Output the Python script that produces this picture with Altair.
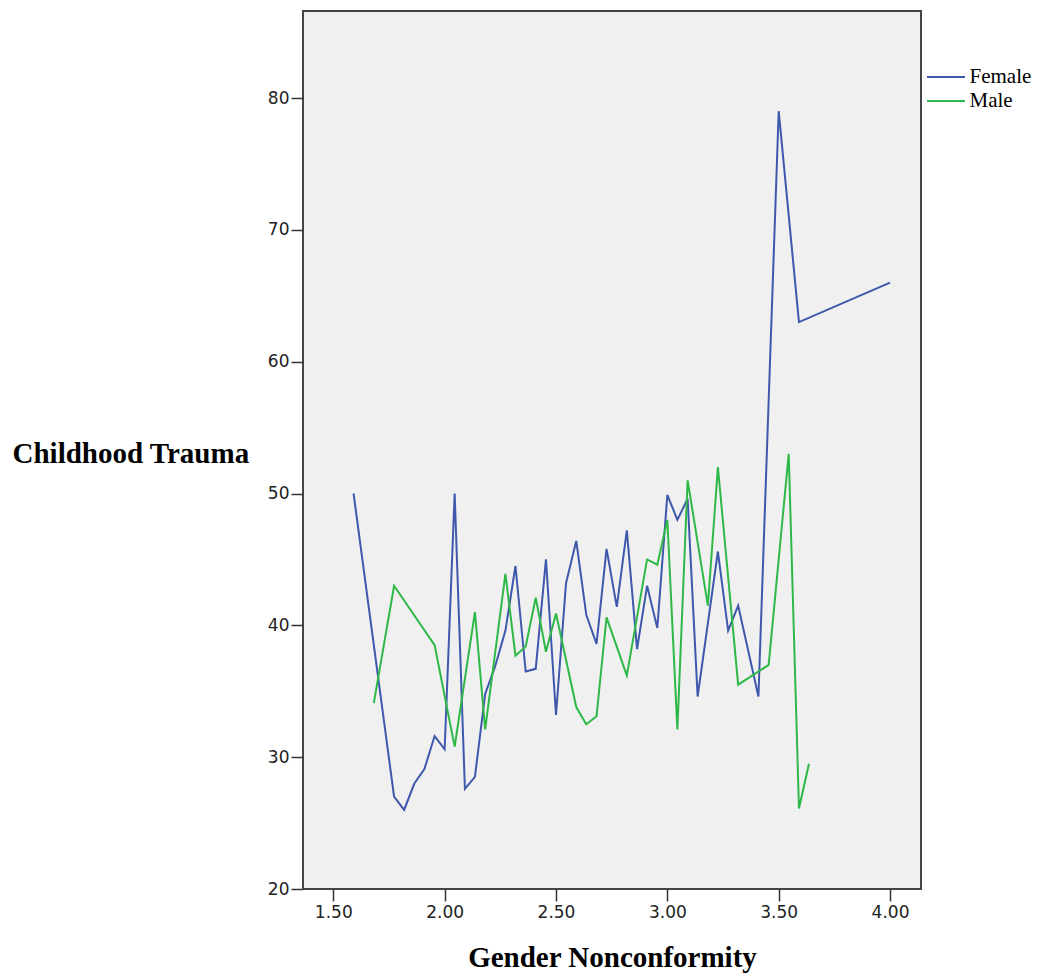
import altair as alt
import pandas as pd

# Data
female_x = [1.591, 1.773, 1.818, 1.864, 1.909, 1.955, 2.000, 2.045, 2.091, 2.136,
            2.182, 2.227, 2.273, 2.318, 2.364, 2.409, 2.455, 2.500, 2.545, 2.591,
            2.636, 2.682, 2.727, 2.773, 2.818, 2.864, 2.909, 2.955, 3.000, 3.045,
            3.091, 3.136, 3.227, 3.273, 3.318, 3.409, 3.500, 3.591, 4.000]
female_y = [50.0, 27.0, 26.0, 28.0, 29.1, 31.6, 30.6, 50.0, 27.6, 28.5,
            34.8, 36.9, 39.6, 44.5, 36.5, 36.7, 45.0, 33.2, 43.2, 46.4,
            40.8, 38.6, 45.8, 41.4, 47.2, 38.2, 43.0, 39.8, 49.9, 48.0,
            49.6, 34.6, 45.6, 39.6, 41.5, 34.6, 79.0, 63.0, 66.0]

male_x = [1.682, 1.773, 1.955, 2.045, 2.136, 2.182, 2.273, 2.318, 2.364, 2.409,
          2.455, 2.500, 2.591, 2.636, 2.682, 2.727, 2.818, 2.909, 2.955, 3.000,
          3.045, 3.091, 3.182, 3.227, 3.318, 3.455, 3.545, 3.591, 3.636]
male_y = [34.1, 43.0, 38.5, 30.8, 41.0, 32.1, 43.9, 37.7, 38.4, 42.1,
          38.0, 40.9, 33.8, 32.5, 33.1, 40.6, 36.2, 45.0, 44.6, 48.0,
          32.1, 51.0, 41.5, 52.0, 35.5, 37.0, 53.0, 26.1, 29.5]

groups = ["Female", "Male"]
colors = ["#3E58AC", "#2EB848"]
x_ticks = [1.5, 2.0, 2.5, 3.0, 3.5, 4.0]
y_ticks = [20, 30, 40, 50, 60, 70, 80]

df = pd.concat([
    pd.DataFrame({"gnc": female_x, "trauma": female_y, "sex": "Female"}),
    pd.DataFrame({"gnc": male_x, "trauma": male_y, "sex": "Male"}),
], ignore_index=True)

chart = alt.Chart(df).mark_line(strokeWidth=2).encode(
    x=alt.X("gnc:Q",
            scale=alt.Scale(domain=[1.364, 4.139], nice=False, zero=False),
            axis=alt.Axis(values=x_ticks, format=".2f", title="Gender Nonconformity",
                          grid=False, domain=False, tickSize=12, tickWidth=1.5,
                          tickColor="#333333", labelPadding=3, labelFlush=False,
                          labelFont="DejaVu Sans", labelFontSize=17, labelColor="#222222",
                          titleFont="Liberation Serif", titleFontSize=29,
                          titleFontWeight="bold", titleColor="#000000",
                          titleY=77, titleBaseline="alphabetic")),
    y=alt.Y("trauma:Q",
            scale=alt.Scale(domain=[20, 86.6], nice=False, zero=False),
            axis=alt.Axis(values=y_ticks, format="d", title="Childhood Trauma",
                          grid=False, domain=False, tickSize=12, tickWidth=1.5,
                          tickColor="#333333", labelPadding=2, labelFlush=False,
                          labelFont="DejaVu Sans", labelFontSize=17, labelColor="#222222",
                          titleFont="Liberation Serif", titleFontSize=29,
                          titleFontWeight="bold", titleColor="#000000",
                          titleAngle=0, titleAlign="left", titleX=-291, titleY=451.7,
                          titleBaseline="alphabetic")),
    color=alt.Color("sex:N",
                    scale=alt.Scale(domain=groups, range=colors),
                    legend=alt.Legend(title=None, orient="none", legendX=629.5, legendY=52.5,
                                      symbolType="M-1.52,0L1.52,0", symbolSize=625,
                                      symbolStrokeWidth=2, labelOffset=10,
                                      labelFont="Liberation Serif", labelFontSize=21,
                                      labelColor="#000000", padding=0, rowPadding=0)),
).properties(
    width=618, height=878,
    autosize=alt.AutoSizeParams(type="none"),
    padding={"left": 295, "top": 3, "right": 111, "bottom": 90},
    background="#ffffff",
).configure_view(fill="#F0F0F0", stroke="#444444", strokeWidth=2)

chart.save("out.html", embed_options={"renderer": "svg", "actions": False})
